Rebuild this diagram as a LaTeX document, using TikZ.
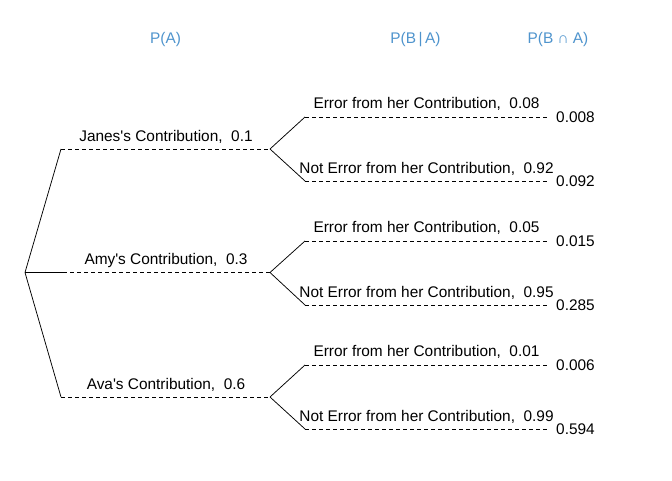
\documentclass[tikz,border=0pt]{standalone}
\usepackage{fontspec}
\setmainfont{Liberation Sans}[Ligatures=TeXOff]
\usetikzlibrary{positioning}
\definecolor{Head}{HTML}{4F94CD}
\definecolor{Ink}{HTML}{000000}

\begin{document}
\begin{tikzpicture}[x=1pt,y=-1pt,
      txt/.style={font=\fontsize{15.4}{18}\selectfont,text=Ink,inner sep=1pt},
      head/.style={txt,text=Head,anchor=base},
      lbl/.style={txt,anchor=base},
      prob/.style={txt,anchor=west},
      leg/.style={line width=0.75pt,color=Ink},
      guide/.style={line width=0.75pt,color=Ink,dash pattern=on 4pt off 3pt}
    ]
      \useasboundingbox (0,0) rectangle (672,480);
      % column heads
      \node[head] (hA) at (165.5,43.5) {P(A)};
      \node[head] (hBA) at (415.5,43.5) {P(B\,|\,A)};
      \node[head] (hAB) at (558,43.5) {P(B ∩ A)};
      % first level
      \coordinate (root) at (25,272.5);
      \coordinate (j0) at (61,149);  \coordinate (j1) at (270,149);
      \coordinate (a0) at (63,272.5);  \coordinate (a1) at (270,272.5);
      \coordinate (v0) at (61,397);  \coordinate (v1) at (270,397);
      \draw[leg] (root) -- (j0);
      \draw[leg] (root) -- (a0);
      \draw[leg] (root) -- (v0);
      \draw[guide] (j0) -- (j1);
      \draw[guide] (a0) -- (a1);
      \draw[guide] (v0) -- (v1);
      \node[lbl] (jl) at (166,141) {Janes's Contribution,\ \ 0.1};
      \node[lbl] (al) at (166,264.5) {Amy's Contribution,\ \ 0.3};
      \node[lbl] (vl) at (166,389) {Ava's Contribution,\ \ 0.6};
      % second level, Jane
      \coordinate (je0) at (305,117);  \coordinate (je1) at (548,117);
      \coordinate (jn0) at (305,181);  \coordinate (jn1) at (548,181);
      \draw[leg] (j1) -- (je0);
      \draw[leg] (j1) -- (jn0);
      \draw[guide] (je0) -- (je1);
      \draw[guide] (jn0) -- (jn1);
      \node[lbl] (jel) at (426.5,108) {Error from her Contribution,\ \ 0.08};
      \node[lbl] (jnl) at (426.5,173) {Not Error from her Contribution,\ \ 0.92};
      \node[prob] (jep) at (555,117) {0.008};
      \node[prob] (jnp) at (555,181) {0.092};
      % second level, Amy
      \coordinate (ae0) at (305,241);  \coordinate (ae1) at (548,241);
      \coordinate (an0) at (305,305);  \coordinate (an1) at (548,305);
      \draw[leg] (a1) -- (ae0);
      \draw[leg] (a1) -- (an0);
      \draw[guide] (ae0) -- (ae1);
      \draw[guide] (an0) -- (an1);
      \node[lbl] (ael) at (426.5,232) {Error from her Contribution,\ \ 0.05};
      \node[lbl] (anl) at (426.5,297) {Not Error from her Contribution,\ \ 0.95};
      \node[prob] (aep) at (555,241) {0.015};
      \node[prob] (anp) at (555,305) {0.285};
      % second level, Ava
      \coordinate (ve0) at (305,365);  \coordinate (ve1) at (548,365);
      \coordinate (vn0) at (305,429);  \coordinate (vn1) at (548,429);
      \draw[leg] (v1) -- (ve0);
      \draw[leg] (v1) -- (vn0);
      \draw[guide] (ve0) -- (ve1);
      \draw[guide] (vn0) -- (vn1);
      \node[lbl] (vel) at (426.5,356) {Error from her Contribution,\ \ 0.01};
      \node[lbl] (vnl) at (426.5,421) {Not Error from her Contribution,\ \ 0.99};
      \node[prob] (vep) at (555,365) {0.006};
      \node[prob] (vnp) at (555,429) {0.594};
    \end{tikzpicture}
\end{document}
